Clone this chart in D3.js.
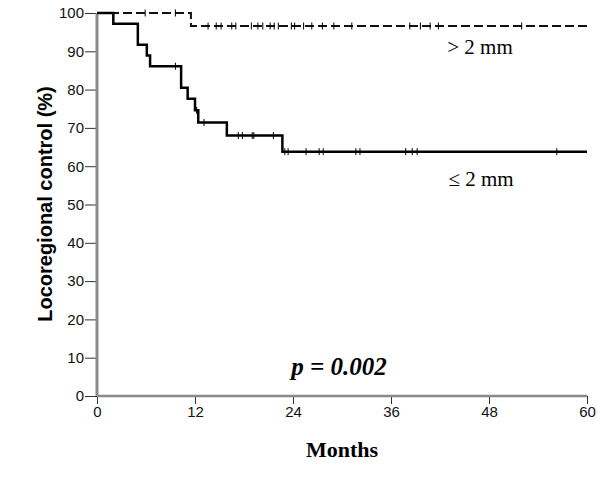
<!DOCTYPE html>
<meta charset="utf-8">
<style>
body { margin: 0; background: #fff; }
.ylab { font-family: Arial, 'Liberation Sans', sans-serif; font-size: 20px; font-weight: bold; }
.serif { font-family: 'Times New Roman', 'Liberation Serif', serif; }
</style>
<svg width="600" height="487"></svg>
<script src="https://d3js.org/d3.v7.min.js"></script>
<script>
// survival steps: [month, percent]
var smallMargin = [[0,100],[2.0,97.2],[5.0,91.7],[6.1,88.9],[6.5,86.1],[10.3,80.5],[11.1,77.6],[12.0,74.6],[12.4,71.4],[15.9,68.0],[22.7,63.8],[60,63.8]];
var smallCensor = [9.6, 12.2, 13.1, 17.3, 17.8, 19.0, 19.2, 21.6, 23.0, 23.4, 25.6, 27.2, 27.7, 31.7, 32.2, 37.8, 38.6, 39.2, 56.3];

var largeMargin = [[0,100],[11.5,96.6],[60,96.6]];
var largeCensor = [5.9, 9.6, 13.6, 14.6, 15.2, 16.5, 17.0, 18.9, 19.7, 20.3, 21.2, 21.7, 22.2, 23.8, 24.2, 25.3, 26.3, 27.6, 29.0, 31.2, 38.3, 39.6, 40.8, 41.8, 52.0];

var xTicks = [0, 12, 24, 36, 48, 60];
var yTicks = [0, 10, 20, 30, 40, 50, 60, 70, 80, 90, 100];

var svg = d3.select("svg");

var x = d3.scaleLinear().domain([0, 60]).range([97, 587]);
var y = d3.scaleLinear().domain([0, 100]).range([396, 13]);

// value at time t for a step curve
function valueAt(steps, t) {
  var v = steps[0][1];
  steps.forEach(function(s) { if (s[0] <= t) v = s[1]; });
  return v;
}

var line = d3.line()
    .x(function(d) { return x(d[0]); })
    .y(function(d) { return y(d[1]); })
    .curve(d3.curveStepAfter);

// axes
var yAxis = svg.append("g")
    .attr("transform", "translate(" + x(0) + ",0)")
    .call(d3.axisLeft(y).tickValues(yTicks).tickSize(12).tickPadding(1));
var xAxis = svg.append("g")
    .attr("transform", "translate(0," + y(0) + ")")
    .call(d3.axisBottom(x).tickValues(xTicks).tickSize(8).tickPadding(2));

[yAxis, xAxis].forEach(function(a) {
  a.attr("font-size", null).attr("font-family", null);
  a.select(".domain").remove();
  a.selectAll(".tick line").attr("stroke", "#333").attr("stroke-width", 1);
  a.selectAll(".tick text")
      .attr("fill", "#111")
      .style("font-family", "Arial, 'Liberation Sans', sans-serif")
      .style("font-size", "15px");
});

svg.append("line")
    .attr("x1", x(0)).attr("x2", x(0))
    .attr("y1", y(100)).attr("y2", y(0))
    .attr("stroke", "#8a8a8a").attr("stroke-width", 3);
svg.append("line")
    .attr("x1", x(0)).attr("x2", x(60))
    .attr("y1", y(0)).attr("y2", y(0))
    .attr("stroke", "#8a8a8a").attr("stroke-width", 2.5);

// curves
svg.append("path")
    .datum(largeMargin)
    .attr("d", line)
    .attr("fill", "none")
    .attr("stroke", "#111")
    .attr("stroke-width", 2)
    .attr("stroke-dasharray", "9,4");

svg.append("path")
    .datum(smallMargin)
    .attr("d", line)
    .attr("fill", "none")
    .attr("stroke", "#000")
    .attr("stroke-width", 2.5);

function censorMarks(times, steps) {
  svg.append("g").selectAll("line")
    .data(times)
    .enter().append("line")
      .attr("x1", function(d) { return x(d); })
      .attr("x2", function(d) { return x(d); })
      .attr("y1", function(d) { return y(valueAt(steps, d)) - 3.5; })
      .attr("y2", function(d) { return y(valueAt(steps, d)) + 3.5; })
      .attr("stroke", "#000")
      .attr("stroke-width", 1);
}
censorMarks(largeCensor, largeMargin);
censorMarks(smallCensor, smallMargin);

// labels
svg.append("text")
    .attr("class", "ylab")
    .attr("transform", "translate(52," + 204 + ") rotate(-90)")
    .attr("text-anchor", "middle")
    .text("Locoregional control (%)");

svg.append("text")
    .attr("class", "serif")
    .attr("x", 342).attr("y", 457)
    .attr("text-anchor", "middle")
    .style("font-size", "22px").style("font-weight", "bold")
    .text("Months");

svg.append("text")
    .attr("class", "serif")
    .attr("x", 339).attr("y", 375)
    .attr("text-anchor", "middle")
    .style("font-size", "25px").style("font-weight", "bold").style("font-style", "italic")
    .text("p = 0.002");

svg.append("text")
    .attr("class", "serif")
    .attr("x", 480).attr("y", 54)
    .attr("text-anchor", "middle")
    .style("font-size", "21px")
    .text("> 2 mm");

svg.append("text")
    .attr("class", "serif")
    .attr("x", 481).attr("y", 186)
    .attr("text-anchor", "middle")
    .style("font-size", "21px")
    .text("≤ 2 mm");
</script>
